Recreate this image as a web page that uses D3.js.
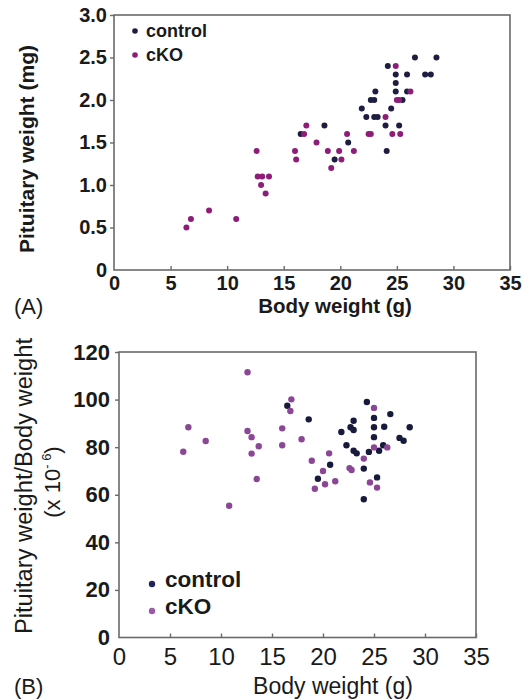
<!DOCTYPE html>
<html>
<head>
<meta charset="utf-8">
<script src="https://cdn.jsdelivr.net/npm/d3@7"></script>
<style>
  body { margin: 0; background: #fff; }
  svg { display: block; }
  text { font-family: "Liberation Sans", Arial, sans-serif; fill: #1a1a1a; }
</style>
</head>
<body>
<svg id="chart" width="530" height="699"></svg>
<script>
// Panel A: body weight (g) vs pituitary weight (mg)
var bodyA_control = [26.6, 28.5, 24.2, 24.9, 25.9, 27.5, 28.0, 24.9, 23.1, 24.9, 25.9, 22.7, 23.0, 25.5, 21.9, 24.5, 22.3, 23.0, 23.3, 18.6, 24.0, 25.2, 16.5, 20.7, 24.1, 19.5];
var pitA_control  = [2.5, 2.5, 2.4, 2.3, 2.3, 2.3, 2.3, 2.2, 2.1, 2.1, 2.1, 2.0, 2.0, 2.0, 1.9, 1.9, 1.8, 1.8, 1.8, 1.7, 1.7, 1.7, 1.6, 1.5, 1.4, 1.3];
var bodyA_cko = [24.9, 26.2, 25.0, 25.2, 24.0, 17.0, 16.8, 20.6, 22.5, 22.7, 24.6, 25.3, 17.9, 18.9, 19.9, 21.2, 20.1, 19.2, 6.4, 6.8, 8.4, 10.8, 12.6, 12.7, 13.1, 13.7, 13.0, 13.4, 16.0, 16.1];
var pitA_cko  = [2.4, 2.1, 2.0, 2.0, 1.8, 1.7, 1.6, 1.6, 1.6, 1.6, 1.6, 1.6, 1.5, 1.4, 1.4, 1.4, 1.3, 1.2, 0.5, 0.6, 0.7, 0.6, 1.4, 1.1, 1.1, 1.1, 1.0, 0.9, 1.4, 1.3];

// Panel B: body weight (g) vs pituitary/body weight (x 10^-6)
var bodyB_control  = [16.5, 18.6, 20.7, 19.5, 21.8, 24.3, 26.6, 25.0, 23.0, 22.7, 23.0, 25.0, 26.0, 28.5, 25.0, 27.5, 27.9, 22.3, 23.0, 23.3, 24.5, 25.5, 25.9, 24.0, 25.3, 24.0];
var ratioB_control = [97.4, 91.7, 72.6, 66.7, 86.4, 99.0, 93.9, 92.3, 91.1, 88.4, 87.2, 88.4, 88.6, 88.4, 84.2, 83.9, 82.7, 80.8, 78.5, 77.4, 78.0, 78.5, 80.8, 71.0, 67.3, 58.1];
var bodyB_cko  = [12.6, 16.9, 16.8, 6.8, 12.6, 13.0, 16.0, 8.5, 6.3, 13.7, 13.0, 16.0, 17.9, 13.5, 10.8, 18.9, 20.6, 20.0, 19.2, 20.2, 21.2, 25.0, 24.0, 25.0, 26.3, 22.6, 22.8, 24.6, 25.3];
var ratioB_cko = [111.5, 100.1, 95.2, 88.4, 86.8, 84.2, 87.9, 82.6, 78.1, 80.4, 77.3, 80.8, 83.3, 66.6, 55.4, 74.3, 77.4, 70.0, 62.5, 64.4, 65.7, 96.5, 75.2, 79.9, 79.9, 71.2, 70.4, 65.2, 63.0];

var xTicks = [0, 5, 10, 15, 20, 25, 30, 35];
var yTicksA = [0, 0.5, 1.0, 1.5, 2.0, 2.5, 3.0];
var yTicksB = [0, 20, 40, 60, 80, 100, 120];
var groups = ['control', 'cKO'];

var svg = d3.select('#chart');

function zip(xs, ys) {
  return xs.map(function(x, i) { return [x, ys[i]]; });
}

function drawPanel(opt) {
  var x = d3.scaleLinear().domain([0, 35]).range([opt.left, opt.right]),
      y = d3.scaleLinear().domain(opt.yDomain).range([opt.bottom, opt.top]),
      g = svg.append('g');

  // frame
  g.append('rect')
    .attr('x', opt.left).attr('y', opt.top)
    .attr('width', opt.right - opt.left).attr('height', opt.bottom - opt.top)
    .attr('fill', 'none').attr('stroke', '#6a6a6a').attr('stroke-width', 1.6);

  // x axis: ticks point inward
  var xAxis = d3.axisBottom(x).tickValues(xTicks).tickSize(-4).tickPadding(opt.xPad).tickFormat(d3.format('d'));
  var gx = g.append('g').attr('transform', 'translate(0,' + opt.bottom + ')').call(xAxis);
  gx.select('.domain').remove();
  gx.selectAll('.tick line').attr('stroke', '#6a6a6a').attr('stroke-width', 1.4);
  gx.selectAll('.tick text')
    .style('font-size', opt.xFont + 'px').style('font-weight', opt.xWeight)
    .attr('fill', '#1a1a1a');
  gx.selectAll('.tick').filter(function(d) { return d === 0; }).select('line').remove();

  // y axis: ticks point outward
  var yAxis = d3.axisLeft(y).tickValues(opt.yTicks).tickSize(4).tickPadding(opt.yPad).tickFormat(opt.yFormat);
  var gy = g.append('g').attr('transform', 'translate(' + opt.left + ',0)').call(yAxis);
  gy.select('.domain').remove();
  gy.selectAll('.tick line').attr('stroke', '#6a6a6a').attr('stroke-width', 1.4);
  gy.selectAll('.tick text')
    .style('font-size', opt.yFont + 'px').style('font-weight', opt.yWeight)
    .attr('fill', '#1a1a1a');
  gy.selectAll('.tick').filter(function(d) { return d === 0; }).select('line').remove();

  // points, control first then cKO on top
  opt.series.forEach(function(s) {
    g.append('g').selectAll('circle')
      .data(s.data)
      .join('circle')
      .attr('cx', function(d) { return x(d[0]); })
      .attr('cy', function(d) { return y(d[1]); })
      .attr('r', opt.r)
      .attr('fill', s.color);
  });

  // legend
  var lg = g.append('g').attr('transform', 'translate(' + opt.legend[0] + ',' + opt.legend[1] + ')');
  groups.forEach(function(name, i) {
    lg.append('circle')
      .attr('cx', 0).attr('cy', i * opt.legendGap)
      .attr('r', opt.legendR).attr('fill', opt.series[i].legendColor);
    lg.append('text')
      .attr('x', opt.legendText).attr('y', i * opt.legendGap + opt.legendBase)
      .style('font-size', opt.legendFont + 'px').style('font-weight', 'bold')
      .text(name);
  });

  return { x: x, y: y };
}

drawPanel({
  left: 114, right: 510, top: 15, bottom: 270,
  yDomain: [0, 3], yTicks: yTicksA, yFormat: function(d) { return d === 0 ? '0' : d3.format('.1f')(d); },
  xFont: 20, xWeight: 'bold', xPad: 6,
  yFont: 20, yWeight: 'bold', yPad: 3,
  r: 3,
  series: [
    { data: zip(bodyA_control, pitA_control), color: '#1d1c41', legendColor: '#1d1c41' },
    { data: zip(bodyA_cko, pitA_cko), color: '#8e1c79', legendColor: '#8e1c79' }
  ],
  legend: [135, 31], legendGap: 24, legendR: 2.8, legendText: 11, legendBase: 6, legendFont: 18
});

drawPanel({
  left: 119, right: 476, top: 352, bottom: 637.5,
  yDomain: [0, 120], yTicks: yTicksB, yFormat: d3.format('d'),
  xFont: 24, xWeight: 'normal', xPad: 10,
  yFont: 22, yWeight: 'bold', yPad: 5,
  r: 3.2,
  series: [
    { data: zip(bodyB_control, ratioB_control), color: '#181a3d', legendColor: '#22245a' },
    { data: zip(bodyB_cko, ratioB_cko), color: '#8b4796', legendColor: '#9b5aa5' }
  ],
  legend: [152, 584], legendGap: 27, legendR: 3.2, legendText: 13, legendBase: 3, legendFont: 22.5
});

// axis titles
svg.append('text')
  .attr('transform', 'translate(34,149) rotate(-90)')
  .attr('text-anchor', 'middle')
  .style('font-size', '21px').style('font-weight', 'bold')
  .attr('textLength', 208).attr('lengthAdjust', 'spacingAndGlyphs')
  .text('Pituitary weight (mg)');

svg.append('text')
  .attr('x', 335).attr('y', 313)
  .attr('text-anchor', 'middle')
  .style('font-size', '20.5px').style('font-weight', 'bold')
  .text('Body weight (g)');

svg.append('text')
  .attr('x', 14).attr('y', 314)
  .style('font-size', '22px')
  .text('(A)');

svg.append('text')
  .attr('transform', 'translate(32,486) rotate(-90)')
  .attr('text-anchor', 'middle')
  .style('font-size', '23.5px')
  .attr('textLength', 296).attr('lengthAdjust', 'spacingAndGlyphs')
  .text('Pituitary weight/Body weight');

var sub = svg.append('text')
  .attr('transform', 'translate(60,482) rotate(-90)')
  .attr('text-anchor', 'middle')
  .style('font-size', '22px');
sub.append('tspan').text('(x 10');
sub.append('tspan').attr('dy', -9).style('font-size', '13px').text('- 6');
sub.append('tspan').attr('dy', 9).text(')');

svg.append('text')
  .attr('x', 333).attr('y', 694)
  .attr('text-anchor', 'middle')
  .style('font-size', '23px')
  .text('Body weight (g)');

svg.append('text')
  .attr('x', 14).attr('y', 694)
  .style('font-size', '22px')
  .text('(B)');
</script>
</body>
</html>
